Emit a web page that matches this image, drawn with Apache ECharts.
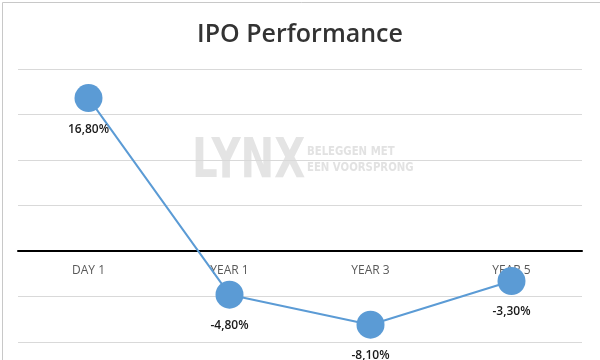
<!DOCTYPE html>
<html>
<head>
<meta charset="utf-8">
<script src="https://cdn.jsdelivr.net/npm/echarts@6/dist/echarts.min.js"></script>
<style>
html,body{margin:0;padding:0;background:#fff;}
#c{width:600px;height:360px;}
</style>
</head>
<body>
<div id="c"></div>
<script>
var categories = ['DAY 1', 'YEAR 1', 'YEAR 3', 'YEAR 5'];
var performance = [16.8, -4.8, -8.1, -3.3];
var chartTitle = 'IPO Performance';
var yMin = -10, yMax = 20, yStep = 5;

function fmt(v){ return v.toFixed(2).replace('.', ',') + '%'; }

var gridTop = 69, gridBottom = 18, H = 360;
var gridH = H - gridTop - gridBottom;
var zeroOffset = -gridH * (0 - yMin) / (yMax - yMin);

var chart = echarts.init(document.getElementById('c'), null, {renderer:'canvas'});
chart.setOption({
  backgroundColor: '#fff',
  animation: false,
  title: {
    text: chartTitle,
    left: 'center',
    top: 17,
    textStyle: {fontFamily: 'Open Sans', fontSize: 25, fontWeight: 600, color: '#333'}
  },
  graphic: [
    {type:'rect', left:0, top:0, shape:{x:0.5,y:0.5,width:599,height:359}, style:{fill:'none', stroke:'#c8c8c8', lineWidth:1}, z:-10, silent:true},
    {type:'text', x:192, y:134, scaleX:0.72, style:{text:'LYNX', font:'bold 56px "DejaVu Sans", sans-serif', fill:'#e4e4e4'}, z:-5, silent:true},
    {type:'text', x:307, y:144, scaleX:0.78, style:{text:'BELEGGEN MET\nEEN VOORSPRONG', font:'bold 13px "DejaVu Sans", sans-serif', lineHeight:16, fill:'#e2e2e2'}, z:-5, silent:true}
  ],
  grid: {left: 18, right: 18, top: gridTop, bottom: gridBottom, containLabel: false, outerBoundsMode: 'none'},
  xAxis: {
    type: 'category',
    data: categories,
    boundaryGap: true,
    position: 'bottom',
    offset: zeroOffset,
    axisLine: {onZero: false, lineStyle: {color: '#000', width: 2}},
    axisTick: {show: false},
    axisLabel: {color: '#595959', fontFamily: 'Open Sans', fontSize: 12, margin: 14}
  },
  yAxis: {
    type: 'value',
    min: yMin, max: yMax, interval: yStep,
    axisLabel: {show: false},
    axisLine: {show: false},
    axisTick: {show: false},
    splitLine: {lineStyle: {color: '#d9d9d9', width: 1}}
  },
  series: [{
    type: 'line',
    data: performance,
    symbol: 'circle',
    symbolSize: 28,
    itemStyle: {color: '#5B9BD5'},
    lineStyle: {color: '#5B9BD5', width: 2},
    label: {
      show: true,
      position: 'bottom',
      distance: 11,
      formatter: function(p){ return fmt(p.value); },
      color: '#1a1a1a',
      fontFamily: 'Open Sans',
      fontSize: 12,
      fontWeight: 600
    },
    z: 5
  }]
});
</script>
</body>
</html>
